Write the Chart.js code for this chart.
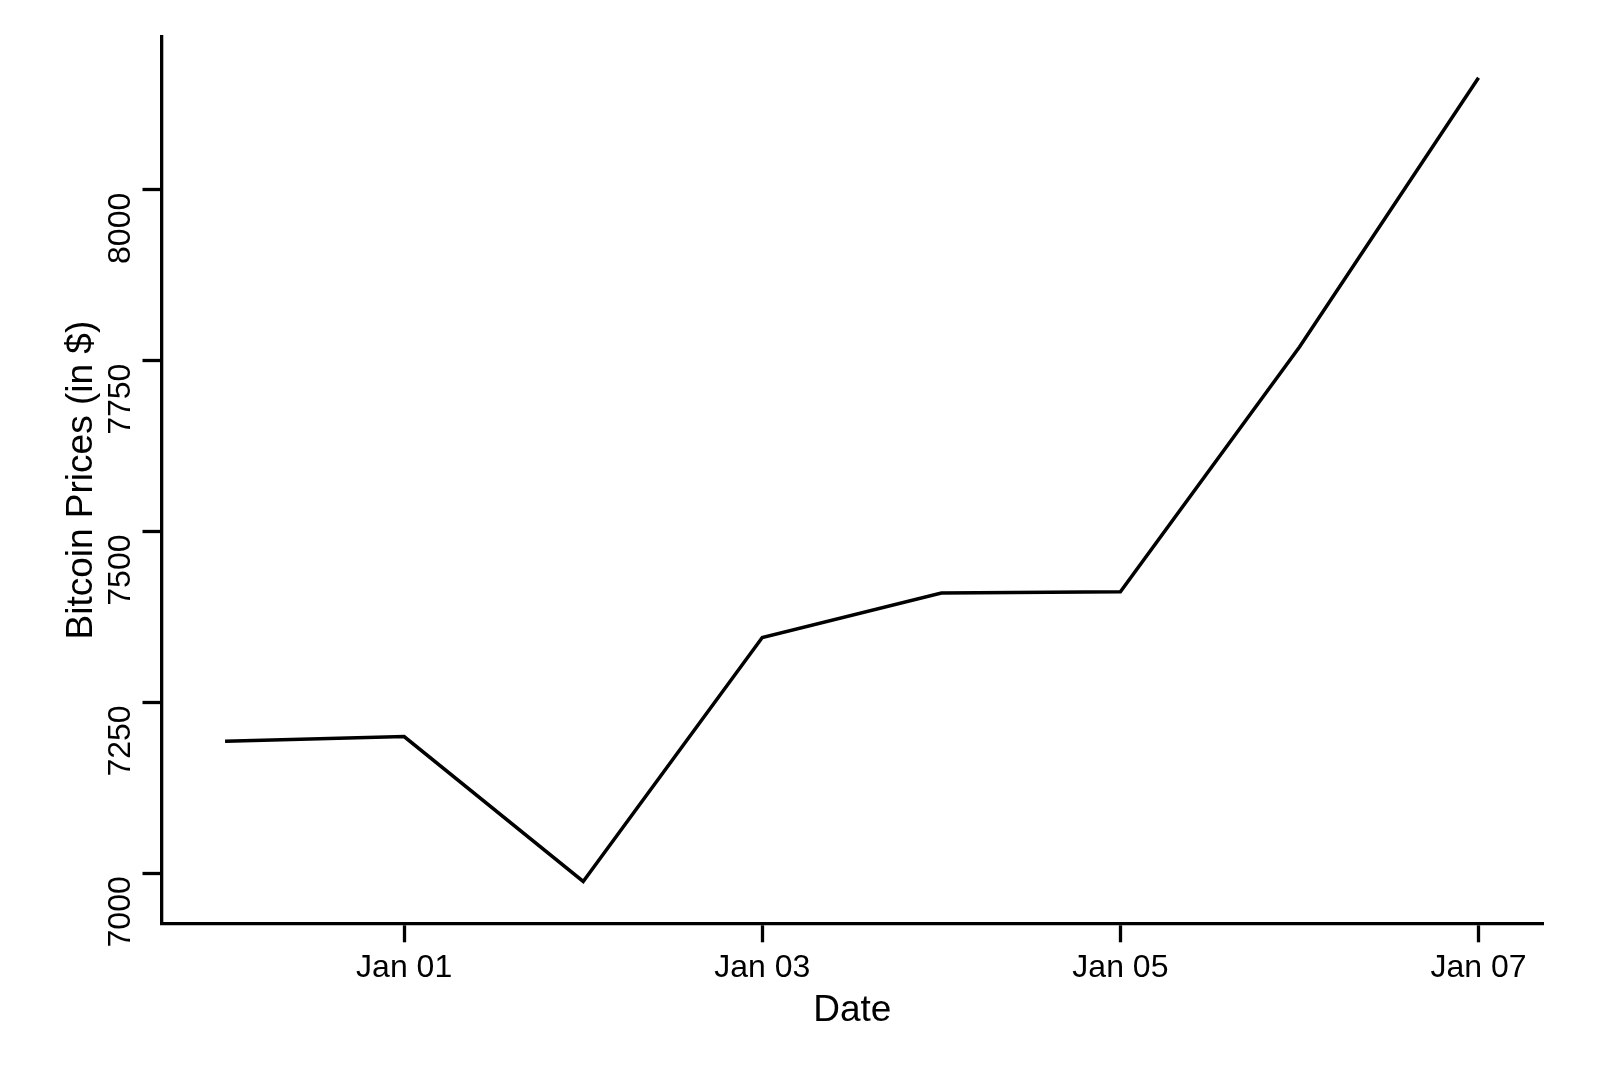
<!DOCTYPE html>
<html>
<head>
<meta charset="utf-8">
<title>Bitcoin Prices</title>
<script src="https://cdn.jsdelivr.net/npm/chart.js@4.4.1/dist/chart.umd.min.js"></script>
<style>
    html, body { margin: 0; padding: 0; background: #fff; }
    #chart { display: block; }
</style>
</head>
<body>
<canvas id="chart" width="1600" height="1067"></canvas>
<script>
// Данные: день (0 = Dec 31) и цена закрытия
const dates = ['Dec 31', 'Jan 01', 'Jan 02', 'Jan 03', 'Jan 04', 'Jan 05', 'Jan 06', 'Jan 07'];
const prices = [7193, 7200, 6988, 7345, 7410, 7412, 7770, 8164];
const xTickDays = [1, 3, 5, 7];
const yTicks = [7000, 7250, 7500, 7750, 8000];

const FONT = '"Liberation Sans", Arial, Helvetica, sans-serif';

// Подписи осей рисуем сами, позиции берём из шкал Chart.js
const axisText = {
    id: 'axisText',
    afterDraw(chart) {
        const { ctx, chartArea, scales: { x, y } } = chart;
        ctx.save();
        ctx.fillStyle = '#000';
        ctx.textBaseline = 'alphabetic';

        ctx.font = `32px ${FONT}`;
        ctx.textAlign = 'center';
        x.ticks.forEach(t => {
            ctx.fillText(dates[t.value], x.getPixelForValue(t.value), 977);
        });

        // подписи по Y заканчиваются чуть ниже деления (как в исходнике)
        ctx.textAlign = 'right';
        y.ticks.forEach(t => {
            ctx.save();
            ctx.translate(130, y.getPixelForValue(t.value) + 3);
            ctx.rotate(-Math.PI / 2);
            ctx.fillText(String(t.value), 0, 0);
            ctx.restore();
        });

        ctx.textAlign = 'center';
        ctx.font = `37px ${FONT}`;
        ctx.fillText('Date', (chartArea.left + chartArea.right) / 2, 1021);

        ctx.save();
        ctx.translate(92, (chartArea.top + chartArea.bottom) / 2);
        ctx.rotate(-Math.PI / 2);
        ctx.fillText('Bitcoin Prices (in $)', 0, 0);
        ctx.restore();

        ctx.restore();
    }
};

const ctx = document.getElementById('chart').getContext('2d');
new Chart(ctx, {
    type: 'line',
    data: {
        datasets: [{
            data: prices.map((p, i) => ({ x: i, y: p })),
            borderColor: '#000',
            borderWidth: 3.5,
            pointRadius: 0,
            fill: false,
            tension: 0
        }]
    },
    options: {
        responsive: false,
        animation: false,
        clip: false,
        layout: { padding: { left: 0, top: 37, right: 57, bottom: 0 } },
        plugins: { legend: { display: false }, tooltip: { enabled: false } },
        scales: {
            x: {
                type: 'linear',
                min: -0.355,
                max: 7.36,
                afterBuildTicks: s => { s.ticks = xTickDays.map(v => ({ value: v })); },
                afterFit: s => { s.height = 143.7; },
                ticks: { display: false },
                grid: { drawOnChartArea: false, drawTicks: true, tickLength: 19, tickWidth: 3.3, tickColor: '#000' },
                border: { display: true, color: '#000', width: 3.3 }
            },
            y: {
                type: 'linear',
                min: 6926.8,
                max: 8223.5,
                afterBuildTicks: s => { s.ticks = yTicks.map(v => ({ value: v })); },
                afterFit: s => { s.width = 161.5; },
                ticks: { display: false },
                grid: { drawOnChartArea: false, drawTicks: true, tickLength: 19, tickWidth: 3.3, tickColor: '#000' },
                border: { display: true, color: '#000', width: 3.3 }
            }
        }
    },
    plugins: [axisText]
});
</script>
</body>
</html>
